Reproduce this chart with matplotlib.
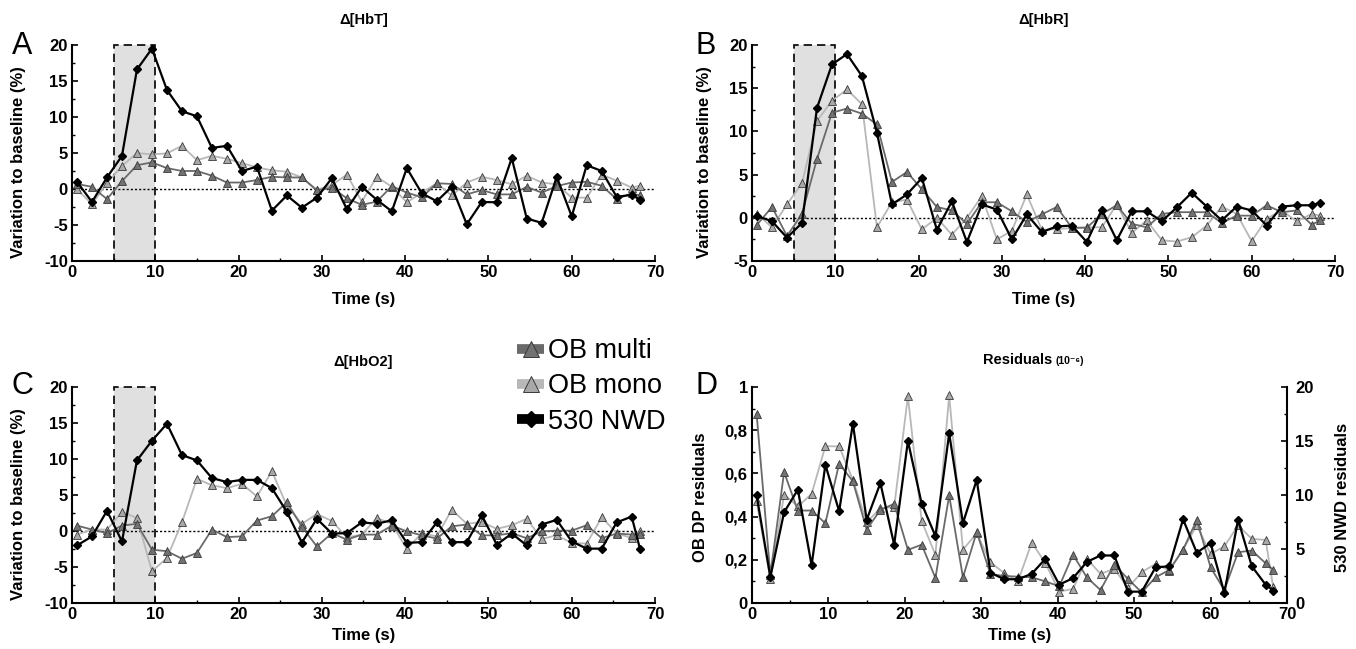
import matplotlib
matplotlib.use("Agg")
import matplotlib.pyplot as plt
from matplotlib.patches import Rectangle
from matplotlib.lines import Line2D
from matplotlib.ticker import MultipleLocator, FuncFormatter

plt.rcParams['font.family'] = ['Liberation Sans Narrow', 'Liberation Sans', 'DejaVu Sans']
plt.rcParams['axes.unicode_minus'] = False

# time of each sample (s)
time = [0.6, 2.4, 4.2, 6.0, 7.8, 9.6, 11.4, 13.2, 15.0, 16.8, 18.6, 20.4, 22.2,
        24.0, 25.8, 27.6, 29.4, 31.2, 33.0, 34.8, 36.6, 38.4, 40.2, 42.0, 43.8,
        45.6, 47.4, 49.2, 51.0, 52.8, 54.6, 56.4, 58.2, 60.0, 61.8, 63.6, 65.4,
        67.2, 68.2]

# A: delta HbT (%)
hbt_multi = [0.7, 0.3, -1.4, 1.1, 3.3, 3.7, 2.9, 2.5, 2.5, 1.85, 0.9, 0.9, 1.25,
             1.7, 1.6, 1.6, -0.2, 0.2, -1.3, -2.2, -1.75, 0.4, -0.5, -1.15, 0.8,
             0.7, -0.75, -0.15, -0.75, -0.75, 0.3, -0.5, 0.4, 0.9, 1.0, 0.45,
             -1.4, -0.6, -0.9]
hbt_mono = [-0.05, -2.1, 0.8, 3.2, 5.0, 4.8, 4.95, 6.0, 4.0, 4.6, 4.2, 3.6, 3.0,
            2.6, 2.4, 1.6, -0.1, 0.55, 2.0, -1.75, 1.7, 0.3, -1.85, -0.5, 0.8,
            -0.9, 0.9, 1.7, 1.25, 0.65, 1.85, 0.9, 0.65, -1.2, -1.2, 2.0, 1.15,
            0.2, 0.45]
hbt_nwd = [1.0, -1.8, 1.6, 4.6, 16.6, 19.5, 13.75, 10.8, 10.1, 5.7, 6.0, 2.5, 3.1,
           -3.0, -0.9, -2.6, -1.2, 1.5, -2.8, 0.3, -1.5, -3.1, 2.9, -0.6, -1.7,
           0.3, -4.9, -1.8, -1.85, 4.3, -4.1, -4.7, 1.7, -3.8, 3.3, 2.5, -1.1,
           -0.8, -1.5]

# B: delta HbR (%)
hbr_multi = [-0.8, 1.25, -2.1, 0.45, 6.8, 12.15, 12.65, 12.05, 10.8, 4.15, 5.3,
             3.3, 1.25, 0.85, -0.7, 1.8, 1.8, 0.75, -0.5, 0.4, 1.25, -1.15, -1.15,
             0.45, 1.45, -0.7, -1.1, 0.45, 0.65, 0.65, 0.65, -0.6, 0.25, 0.25,
             1.45, 0.65, 0.85, -0.8, -0.3]
hbr_mono = [0.45, -1.1, 1.55, 4.0, 11.2, 13.55, 14.85, 13.15, -1.1, 1.8, 2.1,
            -1.35, 0.0, -1.95, 0.0, 2.5, -2.5, -1.5, 2.7, -1.4, -1.3, -1.2, -1.1,
            -1.1, 1.55, -1.75, -0.3, -2.6, -2.75, -2.25, -0.9, 1.3, 0.45, -2.7,
            -0.1, 0.85, -0.4, 0.45, 0.25]
hbr_nwd = [0.2, -0.4, -2.3, -0.6, 12.7, 17.75, 18.95, 16.4, 9.85, 1.55, 2.7, 4.6,
           -1.4, 1.9, -2.8, 1.55, 0.95, -2.5, 0.4, -1.65, -1.0, -0.9, -2.8, 0.95,
           -2.6, 0.75, 0.75, -0.4, 1.2, 2.9, 1.3, -0.3, 1.3, 0.85, -0.9, 1.3,
           1.45, 1.45, 1.75]

# C: delta HbO2 (%)
hbo2_multi = [0.75, 0.2, -0.3, 0.75, 1.0, -2.6, -2.8, -3.85, -3.05, 0.2, -0.85,
              -0.75, 1.45, 2.05, 4.0, 0.6, -2.15, -0.3, -1.2, -0.5, -0.5, 0.75,
              -0.05, -0.6, -1.05, 0.65, 0.9, -0.6, -0.6, -0.3, -1.0, -0.05, 0.05,
              0.05, 0.8, -1.0, -0.35, -0.5, -0.35]
hbo2_mono = [-0.5, 0.2, 0.2, 2.65, 1.8, -5.6, -3.75, 1.2, 7.25, 6.35, 5.95, 6.55,
             4.8, 8.3, 3.5, 1.0, 2.35, 1.4, -0.9, -0.5, 1.8, 1.0, -2.5, -0.3,
             -0.75, 2.95, 1.0, 1.25, 0.3, 0.8, 1.7, -1.1, -0.6, -1.65, -1.75, 1.9,
             -0.3, -1.0, 0.05]
hbo2_nwd = [-2.0, -0.75, 2.8, -1.45, 9.8, 12.55, 14.9, 10.55, 9.8, 7.35, 6.8, 7.1,
            7.1, 5.95, 2.65, -1.6, 1.7, -0.35, -0.3, 1.2, 1.0, 1.5, -1.65, -1.55,
            1.2, -1.55, -1.55, 2.2, -1.9, -0.35, -2.0, 0.9, 1.55, -1.45, -2.45,
            -2.45, 1.2, 2.0, -2.5]

# D: residuals (1e-6), OB on left axis, NWD on right axis
res_multi = [0.876, 0.131, 0.606, 0.428, 0.428, 0.369, 0.645, 0.563, 0.34, 0.431,
             0.459, 0.246, 0.27, 0.116, 0.498, 0.119, 0.328, 0.134, 0.125, 0.122,
             0.119, 0.10, 0.077, 0.224, 0.119, 0.06, 0.178, 0.111, 0.049, 0.119,
             0.153, 0.247, 0.385, 0.165, 0.06, 0.235, 0.243, 0.184, 0.153]
res_mono = [0.471, 0.111, 0.502, 0.447, 0.505, 0.726, 0.725, 0.57, 0.374, 0.439,
            0.444, 0.957, 0.379, 0.223, 0.961, 0.247, 0.323, 0.189, 0.138, 0.10,
            0.28, 0.184, 0.053, 0.065, 0.205, 0.135, 0.158, 0.07, 0.143, 0.181,
            0.15, 0.247, 0.359, 0.227, 0.262, 0.359, 0.297, 0.292, 0.073]
res_nwd = [10.0, 2.4, 8.4, 10.5, 3.5, 12.8, 8.5, 16.6, 7.7, 11.1, 5.4, 15.0, 9.2,
           6.2, 15.7, 7.4, 11.4, 2.8, 2.2, 2.2, 2.7, 4.1, 1.7, 2.3, 3.8, 4.4, 4.4,
           1.05, 1.05, 3.3, 3.4, 7.75, 4.65, 5.55, 0.95, 7.7, 3.4, 1.7, 1.15]

stim_on, stim_off = 5, 10
series_labels = ["OB multi", "OB mono", "530 NWD"]

MULTI_LINE, MULTI_FILL = '#6a6a6a', '#727272'
MONO_LINE, MONO_FILL = '#b8b8b8', '#a8a8a8'
EDGE = '#3a3a3a'
TICK_SIZE = 12
LABEL_SIZE = 12
SANS = ['Liberation Sans', 'DejaVu Sans']

W, H = 1356, 649
fig = plt.figure(figsize=(W / 100, H / 100), dpi=100)


def px_rect(x0, y0, x1, y1):
    return [x0 / W, 1 - y1 / H, (x1 - x0) / W, (y1 - y0) / H]


def bold_ticks(ax):
    for lab in ax.get_xticklabels() + ax.get_yticklabels():
        lab.set_fontsize(TICK_SIZE)
        lab.set_fontweight('bold')


def style_axis(ax, ylim, ystep):
    ax.set_xlim(0, 70)
    ax.set_ylim(*ylim)
    for s in ['top', 'right']:
        ax.spines[s].set_visible(False)
    for s in ['left', 'bottom']:
        ax.spines[s].set_linewidth(1.5)
    ax.xaxis.set_major_locator(MultipleLocator(10))
    ax.xaxis.set_minor_locator(MultipleLocator(5))
    ax.yaxis.set_major_locator(MultipleLocator(ystep))
    ax.yaxis.set_minor_locator(MultipleLocator(ystep / 2))
    ax.tick_params(which='major', direction='in', length=4, width=1.2, pad=3)
    ax.tick_params(which='minor', direction='in', length=2.5, width=1.0)
    bold_ticks(ax)
    ax.set_xlabel('Time (s)', fontsize=LABEL_SIZE, fontweight='bold')


def draw_series(ax, multi, mono, nwd):
    ax.plot(time, mono, color=MONO_LINE, lw=1.3, marker='^', ms=6,
            mfc=MONO_FILL, mec=EDGE, mew=0.6, zorder=3)
    ax.plot(time, multi, color=MULTI_LINE, lw=1.3, marker='^', ms=6,
            mfc=MULTI_FILL, mec=EDGE, mew=0.6, zorder=4)
    if nwd is not None:
        ax.plot(time, nwd, color='black', lw=1.6, marker='D', ms=4.2,
                mfc='black', mec='black', zorder=5)


def hb_panel(rect, multi, mono, nwd, ylim, title, xlab_y, ylab_xy):
    ax = fig.add_axes(rect)
    ax.add_patch(Rectangle((stim_on, ylim[0]), stim_off - stim_on, ylim[1] - ylim[0],
                           facecolor='#e0e0e0', edgecolor='black', lw=1.2,
                           ls=(0, (5, 3)), zorder=1, clip_on=False))
    ax.axhline(0, color='black', ls=(0, (1.5, 1.5)), lw=1.0, zorder=2)
    draw_series(ax, multi, mono, nwd)
    style_axis(ax, ylim, 5)
    ax.set_ylabel('Variation to baseline (%)', fontsize=LABEL_SIZE, fontweight='bold')
    ax.text(0.5, 1.115, title, transform=ax.transAxes, ha='center', va='center',
            fontsize=10.5, fontweight='bold', family=SANS)
    ax.xaxis.set_label_coords(0.5, xlab_y)
    ax.yaxis.set_label_coords(*ylab_xy)
    return ax


axA = hb_panel(px_rect(72, 45, 655, 261), hbt_multi, hbt_mono, hbt_nwd, (-10, 20),
               'Δ[HbT]', -0.145, (-0.079, 0.46))
axB = hb_panel(px_rect(752, 45, 1335, 261), hbr_multi, hbr_mono, hbr_nwd, (-5, 20),
               'Δ[HbR]', -0.145, (-0.068, 0.46))
axC = hb_panel(px_rect(72, 387, 655, 603), hbo2_multi, hbo2_mono, hbo2_nwd, (-10, 20),
               'Δ[HbO2]', -0.118, (-0.079, 0.46))

# D: residuals with twin axis
axD = fig.add_axes(px_rect(752, 387, 1287, 603))
draw_series(axD, res_multi, res_mono, None)
style_axis(axD, (0, 1), 0.2)
axD.yaxis.set_major_formatter(FuncFormatter(lambda v, p: ('%g' % round(v, 2)).replace('.', ',')))
bold_ticks(axD)
axD.set_ylabel('OB DP residuals', fontsize=LABEL_SIZE, fontweight='bold')
axD.yaxis.set_label_coords(-0.083, 0.49)
axD.xaxis.set_label_coords(0.5, -0.118)
axD2 = axD.twinx()
axD2.plot(time, res_nwd, color='black', lw=1.6, marker='D', ms=4.2,
          mfc='black', mec='black', zorder=5)
axD2.set_xlim(0, 70)
axD2.set_ylim(0, 20)
for s in ['top', 'left', 'bottom']:
    axD2.spines[s].set_visible(False)
axD2.spines['right'].set_linewidth(1.5)
axD2.yaxis.set_major_locator(MultipleLocator(5))
axD2.yaxis.set_minor_locator(MultipleLocator(2.5))
axD2.tick_params(which='major', direction='in', length=4, width=1.2, pad=6)
axD2.tick_params(which='minor', direction='in', length=2.5, width=1.0)
bold_ticks(axD2)
axD2.set_ylabel('530 NWD residuals', fontsize=LABEL_SIZE, fontweight='bold')
axD2.yaxis.set_label_coords(1.09, 0.49)

fig.text(1052 / W, 1 - 360 / H, 'Residuals', ha='right', va='center',
         fontsize=10.5, fontweight='bold', family=SANS)
fig.text(1055 / W, 1 - 361 / H, '(10⁻⁶)', ha='left', va='center',
         fontsize=7.5, fontweight='bold', family=SANS)

# panel letters
for letter, (x, y) in zip('ABCD', [(22, 46), (706, 46), (22, 386), (706, 386)]):
    fig.text(x / W, 1 - y / H, letter, ha='center', va='center', fontsize=22,
             family=SANS)

# legend
handles = [
    Line2D([], [], color=MULTI_LINE, lw=7, solid_capstyle='butt', marker='^', ms=12,
           mfc=MULTI_FILL, mec=EDGE, mew=0.7),
    Line2D([], [], color=MONO_LINE, lw=7, solid_capstyle='butt', marker='^', ms=12,
           mfc=MONO_FILL, mec=EDGE, mew=0.7),
    Line2D([], [], color='black', lw=7, solid_capstyle='butt', marker='D', ms=8,
           mfc='black', mec='black'),
]
fig.legend(handles, series_labels, loc='upper left', bbox_to_anchor=(517 / W, 1 - 338 / H),
           frameon=False, borderpad=0, borderaxespad=0, handlelength=1.0,
           handletextpad=0.15, labelspacing=0.35, prop={'family': SANS, 'size': 19.5})

fig.savefig('out.png', dpi=100)
